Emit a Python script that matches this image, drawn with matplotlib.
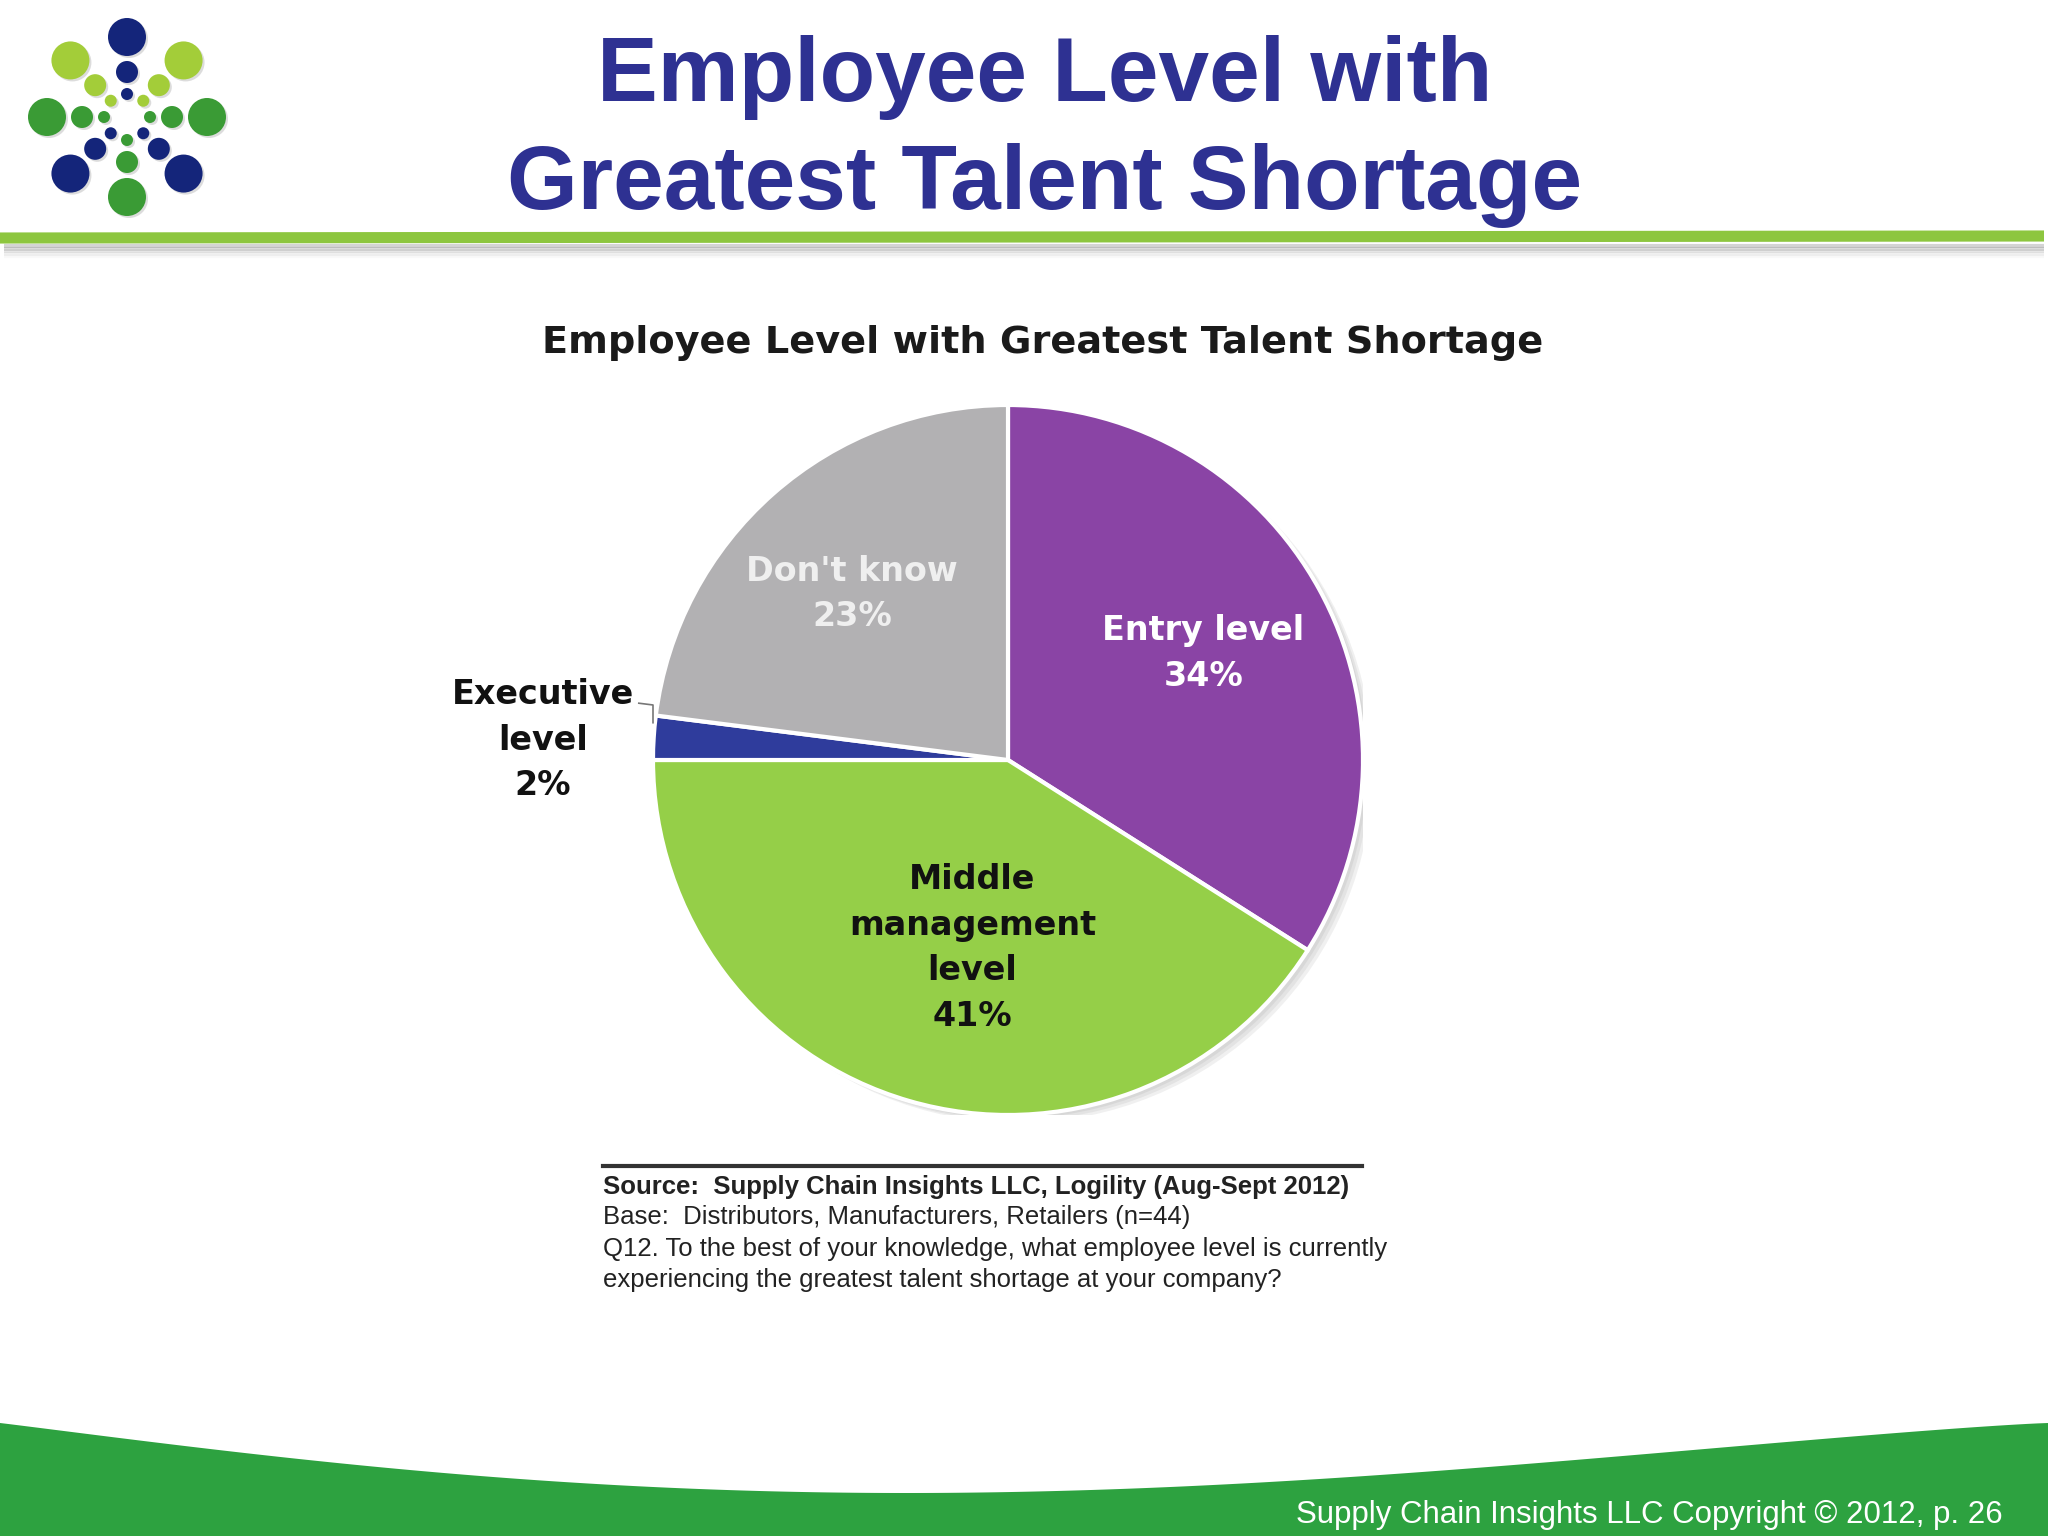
import numpy as np
import matplotlib.pyplot as plt
from matplotlib.patches import Circle, Polygon

# chart data
categories = ["Entry level", "Middle\nmanagement\nlevel", "Executive\nlevel", "Don't know"]
shares = [34, 41, 2, 23]
colors = ["#8A44A5", "#95CF48", "#2F3C9C", "#B2B1B3"]
label_colors = ["#FFFFFF", "#111111", "#111111", "#EFEFEF"]
label_xy = [(0.55, 0.30), (-0.10, -0.53), (-1.31, 0.055), (-0.44, 0.468)]

title_lines = ["Employee Level with", "Greatest Talent Shortage"]
chart_title = "Employee Level with Greatest Talent Shortage"
source_lines = [
    "Source:  Supply Chain Insights LLC, Logility (Aug-Sept 2012)",
    "Base:  Distributors, Manufacturers, Retailers (n=44)",
    "Q12. To the best of your knowledge, what employee level is currently",
    "experiencing the greatest talent shortage at your company?",
]
footer = "Supply Chain Insights LLC Copyright \u00a9 2012, p. 26"

W, H = 2048, 1536
fig = plt.figure(figsize=(W / 100, H / 100), dpi=100)
fig.patch.set_facecolor("white")

# full-page axes in pixel coordinates (y down)
bg = fig.add_axes([0, 0, 1, 1])
bg.set_xlim(0, W)
bg.set_ylim(H, 0)
bg.axis("off")

sans = ["Liberation Sans", "DejaVu Sans"]
wide = ["DejaVu Sans"]

# logo
navy, lgreen, mgreen = "#14257A", "#A3CD39", "#3A9B35"
ring_cols = [navy, lgreen, mgreen, navy, mgreen, navy, mgreen, lgreen]
ring_angles = [90, 45, 0, -45, -90, -135, 180, 135]
cx, cy = 127, 117
for rr, cr in [(80, 19), (45, 11), (23, 6)]:
    for ang, col in zip(ring_angles, ring_cols):
        x = cx + rr * np.cos(np.radians(ang))
        y = cy - rr * np.sin(np.radians(ang))
        bg.add_patch(Circle((x + 2, y + 2), cr, color="#BBBBBB", alpha=0.5, lw=0))
        bg.add_patch(Circle((x, y), cr, color=col, lw=0))

# main title
bg.text(1045, 78, title_lines[0], ha="center", va="center", fontsize=65.5,
        fontweight="bold", color="#2E3192", family=sans)
bg.text(1045, 185, title_lines[1], ha="center", va="center", fontsize=65.5,
        fontweight="bold", color="#2E3192", family=sans)

# green rule with shadow
for i, a in enumerate([0.25, 0.18, 0.12, 0.07, 0.03]):
    bg.plot([4, 2044], [246 + i * 2.5, 246 + i * 2.5], color="#555555", lw=3, alpha=a,
            solid_capstyle="butt")
bg.plot([0, 2044], [238, 236], color="#8DC63F", lw=8, solid_capstyle="butt")

# chart title
bg.text(1043, 343, chart_title, ha="center", va="center", fontsize=27.5,
        fontweight="bold", color="#1A1A1A", family=wide)

# pie
pcx, pcy, pr = 1008, 760, 355
ax = fig.add_axes([(pcx - pr) / W, (H - pcy - pr) / H, 2 * pr / W, 2 * pr / H])
for k, a in enumerate([0.12, 0.12, 0.12]):
    ax.add_patch(Circle((0.012 + 0.008 * k, -0.01 - 0.006 * k), 1.0, color="#888888",
                        alpha=a, lw=0))
wedges, texts = ax.pie(shares, colors=colors, startangle=90, counterclock=False,
                       labels=[f"{c}\n{s}%" for c, s in zip(categories, shares)],
                       wedgeprops=dict(edgecolor="white", linewidth=3),
                       textprops=dict(fontsize=24, fontweight="bold", family=wide,
                                      linespacing=1.48))
for t, xy, col in zip(texts, label_xy, label_colors):
    t.set_position(xy)
    t.set_ha("center")
    t.set_va("center")
    t.set_color(col)
    t.set_clip_on(False)
ax.plot([-1.04, -1.0, -1.0], [0.16, 0.155, 0.105], color="#777777", lw=1.2, clip_on=False)
ax.set_xlim(-1, 1)
ax.set_ylim(-1, 1)
ax.set_aspect("equal")
ax.axis("off")

# source note
bg.plot([603, 1362], [1166, 1166], color="#333333", lw=3)
src_y = [1187, 1217, 1249, 1280]
for i, (line, y) in enumerate(zip(source_lines, src_y)):
    bg.text(603, y, line, ha="left", va="center", fontsize=18.5, color="#222222",
            fontweight="bold" if i == 0 else "normal", family=sans)

# footer wave
xs = np.linspace(0, W, 200)
top = 1423 + 70 * np.sin(np.pi * (xs / W) ** 0.85) ** 1.2
poly = np.column_stack([np.r_[xs, W, 0], np.r_[top, H, H]])
bg.add_patch(Polygon(poly, closed=True, color="#2DA240", lw=0))
bg.text(2003, 1515, footer, ha="right", va="center", fontsize=22.5, color="white",
        family=sans)

fig.savefig("out.png", dpi=100)
